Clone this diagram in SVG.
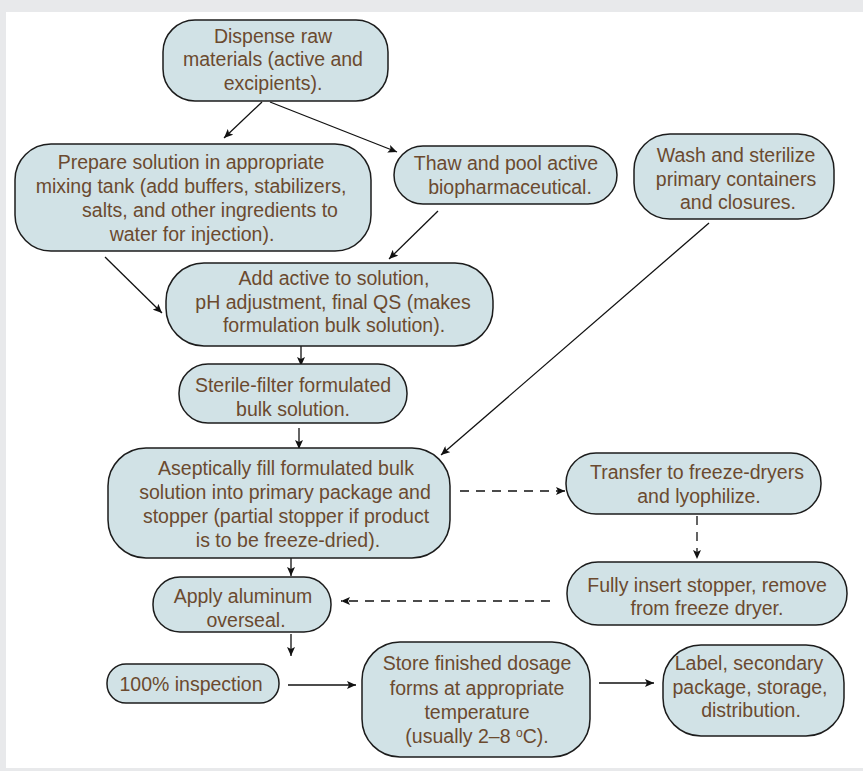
<svg xmlns="http://www.w3.org/2000/svg" width="863" height="771" viewBox="0 0 863 771">
<style>
.bg{fill:#e8e9eb}
.panel{fill:#ffffff}
.box{fill:#d1e2e6;stroke:#1c1c1c;stroke-width:1.5}
.t{font-family:"Liberation Sans",Arial,sans-serif;font-size:19.5px;fill:#6b4a2f;text-anchor:middle}
.c{stroke:#111;stroke-width:1.3;fill:none}
.d{stroke-dasharray:9 7}
</style>
<defs>
<marker id="ah" markerWidth="10" markerHeight="8" refX="9" refY="4" orient="auto" markerUnits="userSpaceOnUse">
<path d="M0,0 L9,4 L0,8 L2,4 z" fill="#111"/>
</marker>
</defs>
<rect class="bg" x="0" y="0" width="863" height="771"/>
<rect class="panel" x="6" y="12" width="857" height="756"/>

<g id="connectors">
<line class="c" x1="262" y1="102" x2="224" y2="138" marker-end="url(#ah)"/>
<line class="c" x1="270" y1="102" x2="397" y2="152" marker-end="url(#ah)"/>
<line class="c" x1="105" y1="257" x2="162" y2="313" marker-end="url(#ah)"/>
<line class="c" x1="438" y1="211" x2="389" y2="259" marker-end="url(#ah)"/>
<line class="c" x1="709" y1="223" x2="441" y2="455" marker-end="url(#ah)"/>
<line class="c" x1="301" y1="346" x2="301" y2="366" marker-end="url(#ah)"/>
<line class="c" x1="299" y1="428" x2="299" y2="449" marker-end="url(#ah)"/>
<line class="c d" x1="460" y1="491" x2="565" y2="491" marker-end="url(#ah)"/>
<line class="c d" x1="697" y1="516" x2="697" y2="559" marker-end="url(#ah)"/>
<line class="c d" x1="550" y1="601" x2="341" y2="601" marker-end="url(#ah)"/>
<line class="c" x1="291" y1="552" x2="291" y2="576" marker-end="url(#ah)"/>
<line class="c" x1="291" y1="634" x2="291" y2="656" marker-end="url(#ah)"/>
<line class="c" x1="288" y1="685" x2="356" y2="685" marker-end="url(#ah)"/>
<line class="c" x1="599" y1="683" x2="654" y2="683" marker-end="url(#ah)"/>
</g>

<g id="dispense">
<rect class="box" x="163" y="20" width="225" height="81" rx="32"/>
<text class="t" x="273" y="43">Dispense raw</text>
<text class="t" x="273" y="66">materials (active and</text>
<text class="t" x="273" y="90">excipients).</text>
</g>

<g id="prepare">
<rect class="box" x="15" y="144" width="356" height="107" rx="36"/>
<text class="t" x="191" y="169">Prepare solution in appropriate</text>
<text class="t" x="191" y="193">mixing tank (add buffers, stabilizers,</text>
<text class="t" x="210" y="217">salts, and other ingredients to</text>
<text class="t" x="192" y="241">water for injection).</text>
</g>

<g id="thaw">
<rect class="box" x="394" y="146" width="223" height="58" rx="29"/>
<text class="t" x="506" y="170">Thaw and pool active</text>
<text class="t" x="510" y="194">biopharmaceutical.</text>
</g>

<g id="wash">
<rect class="box" x="634" y="134" width="200" height="85" rx="36"/>
<text class="t" x="736" y="162">Wash and sterilize</text>
<text class="t" x="736" y="186">primary containers</text>
<text class="t" x="738" y="209">and closures.</text>
</g>

<g id="add-active">
<rect class="box" x="166" y="263" width="327" height="83" rx="38"/>
<text class="t" x="334" y="285">Add active to solution,</text>
<text class="t" x="333" y="309">pH adjustment, final QS (makes</text>
<text class="t" x="334" y="332">formulation bulk solution).</text>
</g>

<g id="sterile-filter">
<rect class="box" x="179" y="364" width="228" height="59" rx="29"/>
<text class="t" x="293" y="392">Sterile-filter formulated</text>
<text class="t" x="293" y="416">bulk solution.</text>
</g>

<g id="aseptic-fill">
<rect class="box" x="108" y="448" width="342" height="110" rx="38"/>
<text class="t" x="286" y="475">Aseptically fill formulated bulk</text>
<text class="t" x="285" y="499">solution into primary package and</text>
<text class="t" x="286" y="523">stopper (partial stopper if product</text>
<text class="t" x="288" y="547">is to be freeze-dried).</text>
</g>

<g id="transfer">
<rect class="box" x="566" y="453" width="255" height="61" rx="30"/>
<text class="t" x="697" y="479">Transfer to freeze-dryers</text>
<text class="t" x="699" y="503">and lyophilize.</text>
</g>

<g id="fully-insert">
<rect class="box" x="567" y="562" width="280" height="63" rx="31"/>
<text class="t" x="707" y="592">Fully insert stopper, remove</text>
<text class="t" x="707" y="615">from freeze dryer.</text>
</g>

<g id="overseal">
<rect class="box" x="153" y="577" width="178" height="55" rx="27"/>
<text class="t" x="243" y="603">Apply aluminum</text>
<text class="t" x="246" y="627">overseal.</text>
</g>

<g id="inspection">
<rect class="box" x="107" y="664" width="172" height="39" rx="19"/>
<text class="t" x="191" y="691">100% inspection</text>
</g>

<g id="store">
<rect class="box" x="362" y="642" width="228" height="115" rx="38"/>
<text class="t" x="477" y="670">Store finished dosage</text>
<text class="t" x="477" y="695">forms at appropriate</text>
<text class="t" x="477" y="719">temperature</text>
<text class="t" x="477" y="743">(usually 2–8 <tspan font-size="12" dy="-6">o</tspan><tspan dy="6">C).</tspan></text>
</g>

<g id="label">
<rect class="box" x="663" y="645" width="181" height="91" rx="38"/>
<text class="t" x="749" y="670">Label, secondary</text>
<text class="t" x="750" y="694">package, storage,</text>
<text class="t" x="751" y="717">distribution.</text>
</g>
</svg>
